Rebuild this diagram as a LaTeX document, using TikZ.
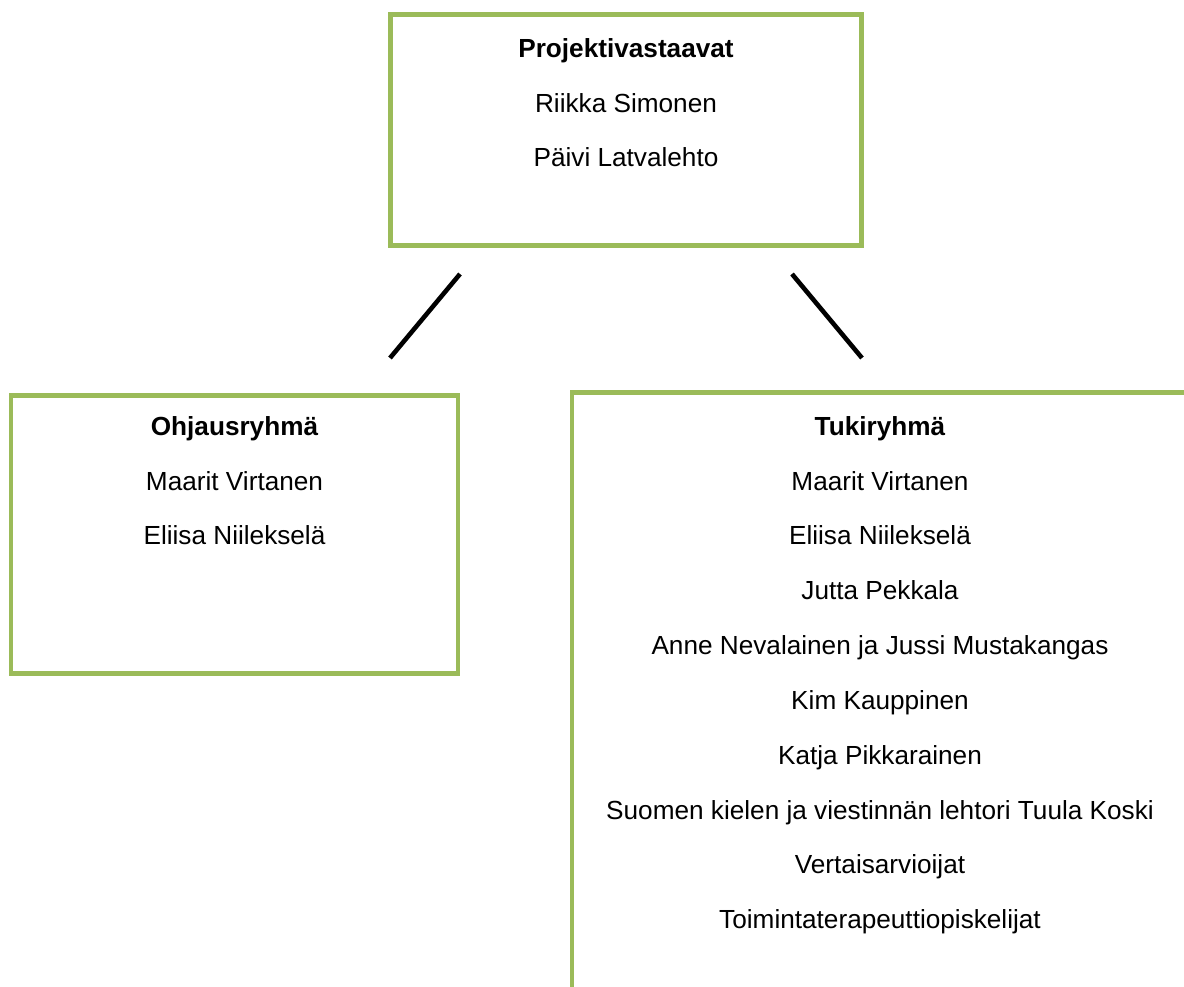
\documentclass[tikz,border=0pt]{standalone}
\usepackage{fontspec}
\setmainfont{Liberation Sans}
\usepackage{xcolor}
\definecolor{orggreen}{HTML}{9BBB59}
\usetikzlibrary{positioning,calc}
\tikzset{
  orgbox/.style={draw=orggreen,line width=2.8pt,fill=white,inner sep=0pt},
  orgtext/.style={anchor=north,inner sep=0pt,align=center,font=\fontsize{14.9}{31.2}\selectfont},
  orglink/.style={line width=2.6pt,black},
}
\begin{document}
\begin{tikzpicture}[x=0.02cm,y=-0.02cm]
\useasboundingbox (0,0) rectangle (1184,987);
\clip (0,0) rectangle (1184,987);

\node[orgbox,minimum width=471*0.02cm,minimum height=231*0.02cm] (proj) at (626,130) {};
\node[orgbox,minimum width=447*0.02cm,minimum height=278*0.02cm] (ohjaus) at (234.5,534.5) {};
\node[orgbox,minimum width=616*0.02cm,minimum height=640*0.02cm] (tuki) at (880,712.5) {};

\node[orgtext] (projtxt) at (626,38) {\textbf{Projektivastaavat}\\Riikka Simonen\\Päivi Latvalehto};
\node[orgtext] (ohjaustxt) at (234.5,416) {\textbf{Ohjausryhmä}\\Maarit Virtanen\\Eliisa Niilekselä};
\node[orgtext] (tukitxt) at (880,416) {\textbf{Tukiryhmä}\\Maarit Virtanen\\Eliisa Niilekselä\\Jutta Pekkala\\Anne Nevalainen ja Jussi Mustakangas\\Kim Kauppinen\\Katja Pikkarainen\\Suomen kielen ja viestinnän lehtori Tuula Koski\\Vertaisarvioijat\\Toimintaterapeuttiopiskelijat};

\coordinate (l1) at (460,274);\coordinate (l2) at (390,358);
\coordinate (r1) at (792,274);\coordinate (r2) at (862,358);
\draw[orglink](l1)--(l2);\draw[orglink](r1)--(r2);
\end{tikzpicture}
\end{document}
